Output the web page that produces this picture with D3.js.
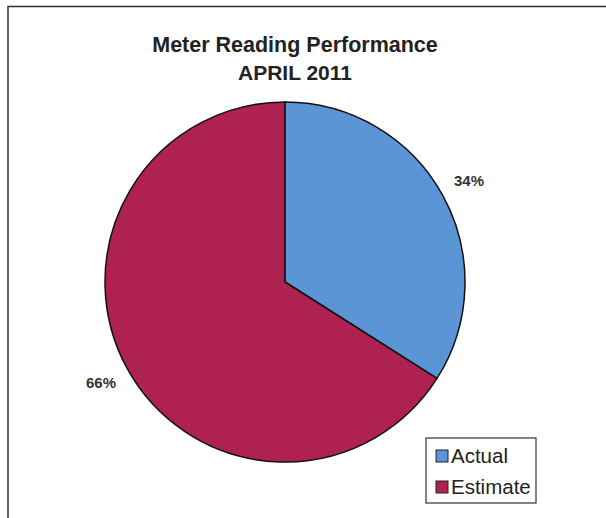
<!DOCTYPE html>
<html>
<head>
<meta charset="utf-8">
<script src="https://cdn.jsdelivr.net/npm/d3@7"></script>
<style>
  body { margin: 0; background: #fff; }
  svg { display: block; font-family: Arial, "Liberation Sans", sans-serif; }
</style>
</head>
<body>
<svg id="chart"></svg>
<script>
// data
let categories = ['Actual', 'Estimate'];
let values = [34, 66];
let labels = ['34%', '66%'];
let colors = ['#5b95d6', '#ae2150'];

let svgWidth = 606;
let svgHeight = 518;

let svg = d3.select('#chart')
    .attr('width', svgWidth)
    .attr('height', svgHeight);

// outer frame (top + left visible)
svg.append('path')
    .attr('d', 'M8,' + svgHeight + ' L8,6.5 L' + svgWidth + ',6.5')
    .attr('fill', 'none')
    .attr('stroke', '#333')
    .attr('stroke-width', 1.5);

// title
svg.append('text')
    .attr('x', 295).attr('y', 52)
    .attr('text-anchor', 'middle')
    .attr('font-size', 21.5).attr('font-weight', 'bold').attr('fill', '#222')
    .text('Meter Reading Performance');
svg.append('text')
    .attr('x', 295).attr('y', 80)
    .attr('text-anchor', 'middle')
    .attr('font-size', 21).attr('font-weight', 'bold').attr('fill', '#222')
    .text('APRIL 2011');

// pie
let cx = 285, cy = 282, r = 180;

let pie = d3.pie().sort(null).value(function(d) { return d; });
let arc = d3.arc().innerRadius(0).outerRadius(r);
let arcs = pie(values);

let g = svg.append('g').attr('transform', 'translate(' + cx + ',' + cy + ')');

g.selectAll('path')
    .data(arcs)
    .enter()
    .append('path')
    .attr('d', arc)
    .attr('fill', function(d, i) { return colors[i]; })
    .attr('stroke', '#111')
    .attr('stroke-width', 1.5);

// percentage labels outside the pie, at the middle angle of each slice
let labelArc = d3.arc().innerRadius(r + 30).outerRadius(r + 30);
g.selectAll('text')
    .data(arcs)
    .enter()
    .append('text')
    .attr('transform', function(d) { return 'translate(' + labelArc.centroid(d) + ')'; })
    .attr('text-anchor', 'middle')
    .attr('dy', '0.35em')
    .attr('font-size', 15).attr('font-weight', 'bold').attr('fill', '#333')
    .text(function(d, i) { return labels[i]; });

// legend
let legend = svg.append('g').attr('transform', 'translate(426,438)');
legend.append('rect')
    .attr('width', 110).attr('height', 65)
    .attr('fill', '#fff').attr('stroke', '#333').attr('stroke-width', 1.2);

let items = legend.selectAll('.item')
    .data(categories)
    .enter()
    .append('g')
    .attr('class', 'item')
    .attr('transform', function(d, i) { return 'translate(10,' + (18 + i * 31) + ')'; });

items.append('rect')
    .attr('x', 0).attr('y', -6)
    .attr('width', 12).attr('height', 12)
    .attr('fill', function(d, i) { return colors[i]; })
    .attr('stroke', '#222').attr('stroke-width', 1);

items.append('text')
    .attr('x', 15).attr('dy', '0.35em')
    .attr('font-size', 20.5).attr('fill', '#222')
    .text(function(d) { return d; });
</script>
</body>
</html>
